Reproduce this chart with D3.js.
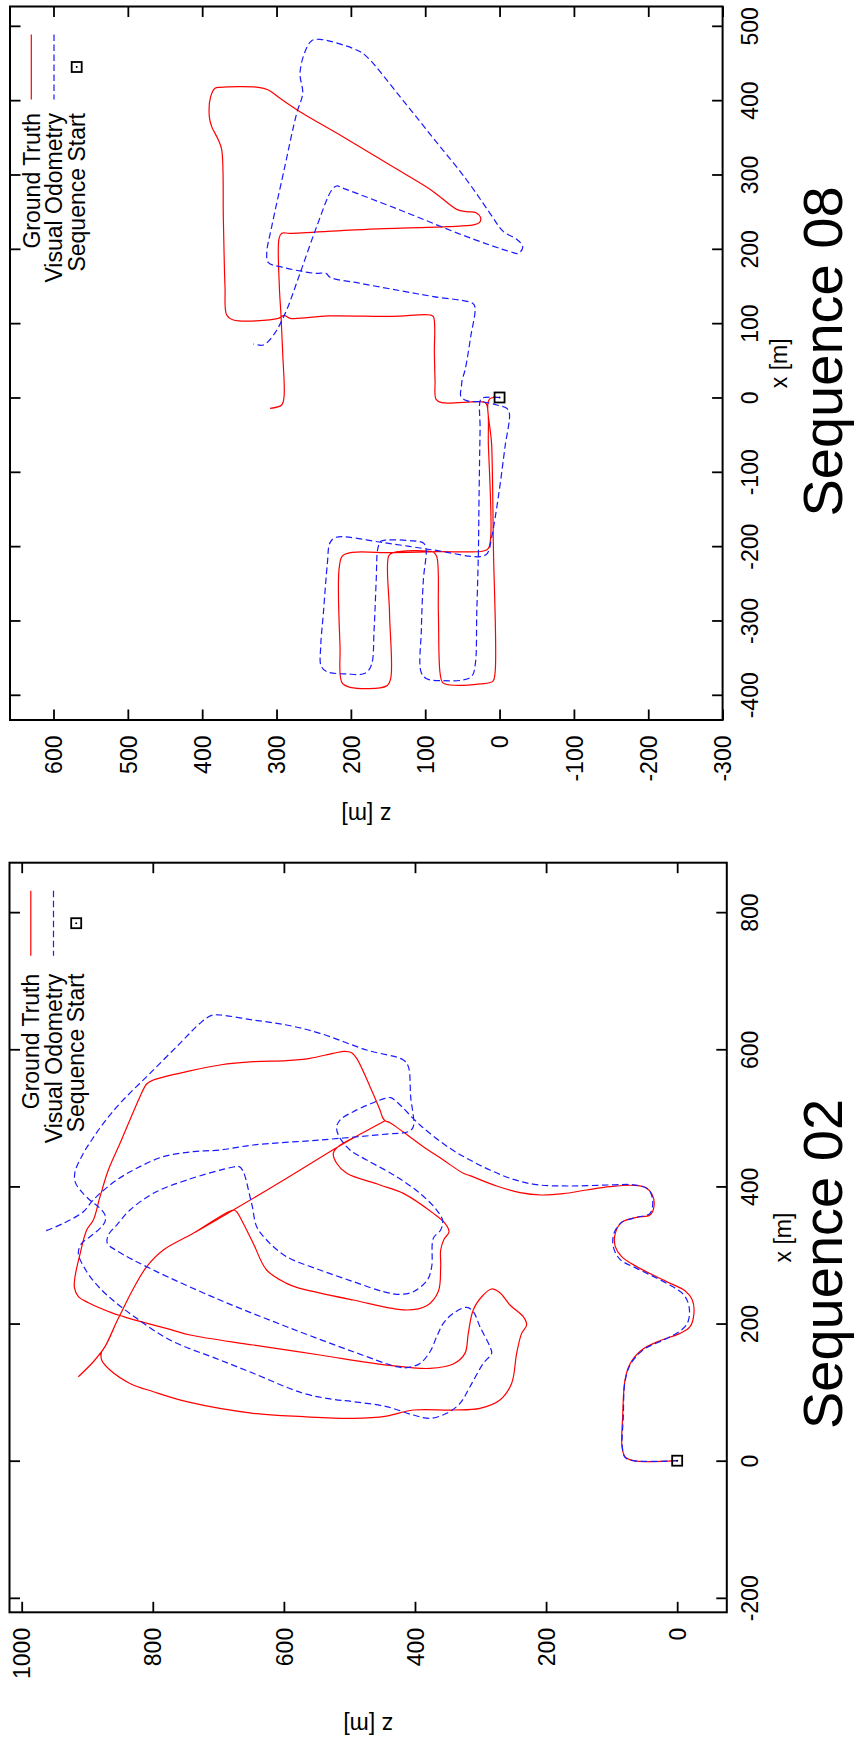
<!DOCTYPE html>
<html>
<head>
<meta charset="utf-8">
<script src="https://cdn.jsdelivr.net/npm/d3@7"></script>
<style>
  html, body { margin: 0; padding: 0; background: #fff; }
  svg { display: block; }
</style>
</head>
<body>
<svg id="chart" width="855" height="1742"></svg>
<script>
// ---------------- DATA (x [m], z [m]) ----------------
const legendLabels = ["Ground Truth", "Visual Odometry", "Sequence Start"];
const titles = ["Sequence 08", "Sequence 02"];
const axisLabels = ["x [m]", "z [m]"];

const ticks08_z = [-300, -200, -100, 0, 100, 200, 300, 400, 500, 600];
const ticks08_x = [-400, -300, -200, -100, 0, 100, 200, 300, 400, 500];
const ticks02_z = [0, 200, 400, 600, 800, 1000];
const ticks02_x = [-200, 0, 200, 400, 600, 800];

const start08 = [[0, 0]];
const start02 = [[0, 0]];

const gt08 = [
  [0,0],[-2.5,13.7],[-66,10.5],[-200.7,8.3],[-371,6.1],[-382,9.2],[-385.4,26.2],[-386.8,66.6],
  [-383.6,76.5],[-371,80],[-290,82.3],[-214,84.5],[-208.3,89],[-208.7,142.8],[-213,149],[-290,148],
  [-377.8,146.4],[-388,151.8],[-389.9,201],[-383.6,212],[-335,214.6],[-227.6,215.5],[-211.9,210],
  [-208.7,142.8],[-207.4,84.5],[-206.5,21.7],[-202.9,15],[-187.2,11.9],[-66,15],[-7.8,18.2],
  [-5.6,26.2],[-7,77.8],[-2.5,85.4],[23.5,86.8],[59.4,87.7],[108.7,89],[111,93.5],[109.2,145],
  [109.7,230.3],[106.5,281.8],[110.5,289.9],[106.5,297.5],[104.3,358],[111,367],[149,369.3],
  [238.8,371.5],[333,373.7],[346.4,378.2],[364.4,387.2],[377.8,390.4],[404.7,388.6],[416,382.7],
  [417.3,376],[417.3,324.4],[413.7,311],[402.5,295.3],[384.5,268.4],[353.1,214.6],[326.2,169.7],
  [299.3,124.9],[276.9,89],[253.1,57.6],[250,44.2],[248.6,31.6],[241,25.3],[235.2,27.1],
  [232.1,35.2],[229.8,71.1],[226.2,178.7],[220.9,281.8],[220.9,293],[214.1,296.6],[149.1,296.2],
  [111,294],[59.4,291.7],[1.1,289.9],[-10.1,293],[-14.6,308.7]
];

const vo08 = [
  [0,0],[0.2,19.5],[-2.5,25.3],[-43.7,26.2],[-133.4,27.6],[-209.6,28.5],[-290.4,30.7],[-357.6,32.5],
  [-374.7,37],[-380,48.7],[-381,75.6],[-378.3,98],[-369.3,105.6],[-312.8,105.2],[-245.5,102.5],
  [-202.9,98.9],[-195.7,102.5],[-193,115.9],[-191.7,151.8],[-193.5,159.7],[-202.9,163.7],
  [-245.5,165.9],[-312.8,168.8],[-359.9,172.4],[-371.1,180.9],[-372,205.5],[-368.8,232.5],
  [-361.2,240.1],[-335.2,240.6],[-290.4,237],[-223.1,231.6],[-195.3,228],[-188.1,219.9],
  [-195.3,156.3],[-205.2,89],[-214.1,26.2],[-209.6,16.4],[-187.2,10.5],[-133.4,1.6],[-66.1,-7.4],
  [-21.3,-13.2],[-14.6,-9.6],[-10.1,3.8],[-6.1,21.7],[-4.3,44.2],[2,52.2],[14.6,51.3],[23.5,50.4],
  [37,46.4],[81.8,38.8],[121.3,33],[126.7,36.1],[135.7,89],[143.7,133.9],[153.6,187.7],[161.7,228],
  [167,233.4],[167,248.2],[176,295.3],[181.4,311],[193.9,313.2],[229.8,306.5],[301.6,290.8],
  [382.3,272.9],[409.2,264.8],[436.1,268.4],[465.2,261.7],[480,252.7],[481.8,241.5],[467.5,192.2],
  [458.5,178.7],[404.7,133.9],[348.7,89],[292.6,44.2],[247.8,12.8],[223.1,-5.2],[212.8,-23.1],
  [202.9,-31.2],[193.9,-25.3],[196.2,-14.1],[216.4,44.2],[252.2,133.9],[281.4,210.1],[284.5,219],
  [279.1,225.8],[229.8,246],[167,268.4],[113.2,288.3],[84.1,304],[70.6,317.7],[72,331.2]
];

const gt02 = [
  [0,0],[0,66.9],[5.9,79.6],[20.5,84.2],[64.2,83.2],[117.7,79.6],[141,72],[161.4,54.2],[175,26.2],
  [185.7,-4.4],[195.4,-19.6],[214.9,-25.6],[234.3,-23.1],[247.9,-11.9],[261.1,16],[283,61.8],
  [297.6,84.7],[312.2,94.4],[331.6,94.4],[347.6,84.7],[354.9,61.8],[358.3,41.5],[370.4,35.4],
  [387.5,37.9],[398.7,49.1],[401.6,66.9],[399.6,102.6],[394.8,138.2],[389.4,173.8],[387.5,206.8],
  [390.9,239.8],[400.6,275.4],[415.7,316.1],[419.1,326.2],[438.5,356.7],[457.9,387.2],[479.3,417.7],
  [492.9,438.1],[495.9,445.7],[500.3,449.3],[511.4,453.4],[545.5,468.6],[586.8,488.9],[595,496.6],
  [597,506.8],[594.1,524.6],[586.8,560.2],[583.4,595.8],[581.9,646.6],[577.1,697.5],[567.3,748.3],
  [555.2,799.2],[549.4,809.3],[530.9,819.5],[462.8,850],[423.9,867.8],[385,880.5],[351,890.7],
  [336.4,900.8],[297.5,912],[268.4,918.6],[252.8,919.6],[239.2,913.5],[230.4,898.3],[214.9,860.2],
  [211,847.5],[207.1,834.8],[191.5,773.8],[183.3,743.3],[168.7,646.7],[154.1,545],[139.5,443.3],
  [134.6,377.2],[140.9,341.6],[156.5,323.8],[185.7,318.7],[219.8,311.1],[241.6,295.8],[250.4,283.1],
  [245,270.4],[227,255.1],[210,234.8],[197.9,229.7],[185.7,237.3],[156.5,244.9],[112.7,252.6],
  [88.4,270.4],[76.3,300.9],[73.9,341.6],[73.9,402.6],[65.1,443.3],[61.7,494.1],[64.2,570.4],
  [69.1,646.7],[86.1,748.3],[100.6,799.2],[112.7,834.8],[132.2,865.3],[146.8,878],[159,878],
  [166.3,872.9],[202.7,855.1],[217.3,847.5],[246.5,832.2],[283,809.3],[307.3,783.9],[331.6,738.2],
  [365.6,677.2],[363.1,672.1],[353.5,666],[316.9,646.7],[278.1,626.3],[258.6,595.8],[252.8,580.5],
  [234.3,494.1],[219.8,412.8],[225.9,382.2],[246.8,364.4],[283,360.8],[307.3,360.8],[322.8,355.7],
  [334,348.1],[346.2,354.2],[360.7,371.9],[389.9,417.7],[402.1,453.3],[419.1,504.2],[433.7,519.5],
  [448.3,524.6],[457,518.5],[476,483.9],[495.9,445.7],[476,483.9],[457,518.5],[411.8,595.8],
  [365.6,677.2],[331.6,738.2],[307.3,783.9],[283,809.3],[246.5,832.2],[217.3,847.5],[202.7,855.1],
  [166.3,872.9],[144.3,890.7],[122.5,913.6]
];

const vo02 = [
  [0,0],[0,66.9],[4.9,79.6],[20.5,83.7],[64.2,82.2],[115.3,79.6],[141,71],[162.4,50.6],[176,21.2],
  [187.2,-1.7],[200.3,-15.5],[222.2,-18.5],[241.6,-10.4],[258.6,16],[280.5,61.8],[293.6,87.2],
  [312.1,97.4],[331.6,96.4],[347.6,84.7],[354.9,61.8],[360.7,41.5],[380.2,37.4],[395.8,44],
  [402.1,64.4],[402.1,102.6],[400.6,163.6],[402.5,214.4],[410.3,249.9],[423.9,285.6],[438.5,316.1],
  [455.5,346.6],[489.6,392.4],[523.6,428],[529.4,437.1],[528.4,445.8],[509,494.1],[496.8,514.4],
  [487.1,519.5],[474.9,516.9],[453,499.1],[438.5,473.7],[414.2,428],[389.9,392.4],[365.6,366.9],
  [350,357.8],[336.5,360.8],[324.3,372],[283,374.5],[263.5,381.1],[246.5,402.5],[242.6,422.8],
  [246.5,448.2],[261.1,494],[278.1,544.9],[297.5,595.8],[321.8,626.3],[341.3,641.5],[370.5,648.1],
  [385,651.7],[421.5,661.9],[428.8,668],[428.3,677.2],[409.3,748.3],[389.9,799.2],[365.6,834.8],
  [343.7,855.1],[329.1,867.8],[317,869.3],[306.3,855.1],[278.1,799.2],[234.3,697.5],[195.4,595.8],
  [158.9,494.1],[137.1,428],[135.6,412.8],[141.9,392.4],[158.9,377.1],[180.8,366.9],[200.3,356.8],
  [214.9,341.6],[223.6,321.2],[217.3,311],[195.4,300.9],[166.2,285.6],[156.5,283.1],[141.9,295.8],
  [107.9,316.1],[83.6,331.3],[69.1,351.6],[61.7,377.1],[66.6,402.5],[78.8,443.3],[86.1,494.1],
  [89.5,524.6],[98.3,570.4],[127.5,646.7],[146.9,697.5],[176,773.8],[207.6,824.6],[229.5,855.1],
  [251.4,880.5],[275.7,900.8],[302.4,913.6],[317,908.5],[326.7,895.8],[338.8,880.5],[348.6,872.9],
  [358.3,872.9],[370.4,883.1],[377.7,893.2],[394.8,911],[406.9,918.6],[421.5,918.6],[448.3,905.9],
  [467.7,893.2],[492,875.4],[521.2,850],[564.9,804.3],[608.7,758.5],[637.9,728],[649.5,710.2],
  [650,697.5],[642.7,646.7],[635.4,595.8],[623.3,545],[598.9,473.7],[584.4,417.7],[574.7,410.1],
  [530.9,406.6],[487.1,402.6],[479.8,410.1],[476.4,443.2],[467.7,545],[460.4,646.7],[453.1,697.5],
  [450.7,738.2],[443.4,783.9],[426.4,824.6],[409.3,855.1],[389.9,880.5],[377.7,893.2],[363.1,905.9],
  [346.1,936.4],[334,966.9]
];

// ---------------- DRAWING ----------------
const FONT = "'Liberation Sans', Arial, Helvetica, sans-serif";
const FS = 23;
const svg = d3.select("#chart");
svg.append("rect").attr("width", 855).attr("height", 1742).attr("fill", "#fff");

const RED = "#ff0000", BLUE = "#1a1aff";
const DASH = "6.5,3.5";
const LW = 1.2;
const TICK = 10.5;

function drawPanel(p) {
  const g = svg.append("g");
  const zScale = d3.scaleLinear().domain(p.zDomain).range([p.left, p.right]);
  const xScale = d3.scaleLinear().domain(p.xDomain).range([p.top, p.bottom]);
  const fmt = d => String(d);

  // right axis (x) with labels, inward ticks
  const axR = g.append("g").attr("transform", `translate(${p.right},0)`)
    .call(d3.axisRight(xScale).tickValues(p.xTicks).tickSizeInner(-TICK).tickSizeOuter(0).tickFormat(fmt));
  axR.selectAll("text")
    .attr("x", null).attr("dy", null)
    .attr("text-anchor", "middle")
    .attr("transform", `translate(${757.5 - p.right},0) rotate(-90)`);
  // left mirror
  const axL = g.append("g").attr("transform", `translate(${p.left},0)`)
    .call(d3.axisLeft(xScale).tickValues(p.xTicks).tickSizeInner(-TICK).tickSizeOuter(0).tickFormat(""));
  // bottom axis (z) with labels
  const axB = g.append("g").attr("transform", `translate(0,${p.bottom})`)
    .call(d3.axisBottom(zScale).tickValues(p.zTicks).tickSizeInner(-TICK).tickSizeOuter(0).tickFormat(fmt));
  axB.selectAll("text")
    .attr("y", null).attr("dy", null)
    .attr("text-anchor", "end")
    .attr("transform", "translate(8.2,15.5) rotate(-90)");
  // top mirror
  const axT = g.append("g").attr("transform", `translate(0,${p.top})`)
    .call(d3.axisTop(zScale).tickValues(p.zTicks).tickSizeInner(-TICK).tickSizeOuter(0).tickFormat(""));

  [axR, axL, axB, axT].forEach(a => {
    a.select(".domain").remove();
    a.attr("font-size", FS).attr("font-family", FONT);
    a.selectAll(".tick line").attr("stroke", "#000").attr("stroke-width", 1.8);
    a.selectAll("text").attr("fill", "#000");
  });

  // frame
  g.append("rect")
    .attr("x", p.left).attr("y", p.top)
    .attr("width", p.right - p.left).attr("height", p.bottom - p.top)
    .attr("fill", "none").attr("stroke", "#000").attr("stroke-width", 2);

  // trajectories
  const line = d3.line()
    .x(d => zScale(d[1]))
    .y(d => xScale(d[0]))
    .curve(d3.curveCatmullRom.alpha(0.5));

  g.append("path").datum(p.gt).attr("d", line)
    .attr("fill", "none").attr("stroke", RED).attr("stroke-width", LW)
    .attr("stroke-linejoin", "round");
  g.append("path").datum(p.vo).attr("d", line)
    .attr("fill", "none").attr("stroke", BLUE).attr("stroke-width", LW)
    .attr("stroke-dasharray", DASH).attr("stroke-linejoin", "round");

  function marker(sel, cx, cy) {
    sel.append("rect").attr("x", cx - 5).attr("y", cy - 5).attr("width", 10).attr("height", 10)
      .attr("fill", "none").attr("stroke", "#000").attr("stroke-width", 1.8);
    sel.append("circle").attr("cx", cx).attr("cy", cy).attr("r", 1).attr("fill", "#000");
  }
  p.start.forEach(d => marker(g, zScale(d[1]), xScale(d[0])));

  // legend (rotated)
  const rowX = i => p.left + 21.3 + i * 22.7;
  const y0 = p.top + 28, y1 = p.top + 93, yt = p.top + p.legendTextOff;
  legendLabels.forEach((lab, i) => {
    const x = rowX(i);
    g.append("text")
      .attr("transform", `translate(${x + 8.2},${yt}) rotate(-90)`)
      .attr("text-anchor", "end")
      .attr("font-family", FONT).attr("font-size", FS).attr("fill", "#000")
      .text(lab);
    if (i === 0) {
      g.append("line").attr("x1", x).attr("x2", x).attr("y1", y0).attr("y2", y1)
        .attr("stroke", RED).attr("stroke-width", LW);
    } else if (i === 1) {
      g.append("line").attr("x1", x).attr("x2", x).attr("y1", y0).attr("y2", y1)
        .attr("stroke", BLUE).attr("stroke-width", LW).attr("stroke-dasharray", DASH);
    } else {
      marker(g, x, (y0 + y1) / 2);
    }
  });

  // axis labels
  g.append("text")
    .attr("transform", `translate(${p.xLabelX},${(p.top + p.bottom) / 2}) rotate(-90)`)
    .attr("text-anchor", "middle")
    .attr("font-family", FONT).attr("font-size", FS).attr("fill", "#000")
    .text(axisLabels[0]);
  g.append("text")
    .attr("transform", `translate(${(p.left + p.right) / 2},${p.zLabelY}) rotate(180)`)
    .attr("text-anchor", "middle")
    .attr("font-family", FONT).attr("font-size", FS).attr("fill", "#000")
    .text(axisLabels[1]);

  // title
  g.append("text")
    .attr("transform", `translate(841.5,${p.titleY}) rotate(-90)`)
    .attr("text-anchor", "middle")
    .attr("font-family", FONT).attr("font-size", 56).attr("fill", "#000")
    .text(p.title);
}

drawPanel({
  left: 10, right: 722.6, top: 6.5, bottom: 720,
  zDomain: [658.5, -300], xDomain: [526, -433.9],
  zTicks: ticks08_z, xTicks: ticks08_x,
  gt: gt08, vo: vo08, start: start08, legendTextOff: 106.5,
  title: titles[0], titleY: 351.5, xLabelX: 787, zLabelY: 806.5
});

drawPanel({
  left: 9.5, right: 726.8, top: 862.7, bottom: 1612.3,
  zDomain: [1018.6, -75.7], xDomain: [872.1, -221.1],
  zTicks: ticks02_z, xTicks: ticks02_x,
  gt: gt02, vo: vo02, start: start02, legendTextOff: 111,
  title: titles[1], titleY: 1264, xLabelX: 791, zLabelY: 1716.5
});
</script>
</body>
</html>
